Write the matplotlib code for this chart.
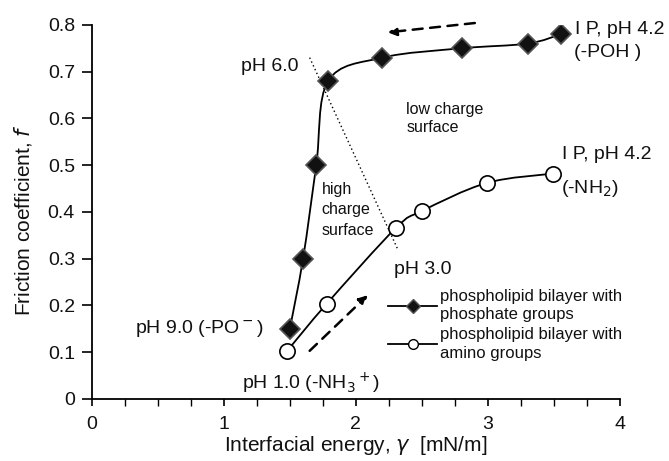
import numpy as np
import matplotlib
matplotlib.use("Agg")
import matplotlib.pyplot as plt
from matplotlib.path import Path
from matplotlib.patches import PathPatch
from matplotlib.lines import Line2D

plt.rcParams['font.family'] = ['Liberation Sans', 'DejaVu Sans']

# Data
phosphate_x = [1.50, 1.60, 1.70, 1.79, 2.20, 2.80, 3.30, 3.55]
phosphate_y = [0.15, 0.30, 0.50, 0.68, 0.73, 0.75, 0.76, 0.78]
amino_x = [1.48, 1.78, 2.30, 2.50, 2.99, 3.49]
amino_y = [0.103, 0.204, 0.365, 0.402, 0.462, 0.482]

x_ticks = [0, 1, 2, 3, 4]
y_ticks = [0, 0.1, 0.2, 0.3, 0.4, 0.5, 0.6, 0.7, 0.8]
y_ticklabels = ['0', '0.1', '0.2', '0.3', '0.4', '0.5', '0.6', '0.7', '0.8']

boundary_x = [1.65, 2.32]
boundary_y = [0.73, 0.318]

fig = plt.figure(figsize=(6.69, 4.61), dpi=100)
ax = fig.add_axes([0.137, 0.1345, 0.79, 0.8115])
ax.set_xlim(0, 4)
ax.set_ylim(0, 0.8)
for s in ['top', 'right']:
    ax.spines[s].set_visible(False)
for s in ['left', 'bottom']:
    ax.spines[s].set_linewidth(1.3)

ax.set_xticks(x_ticks)
ax.set_xticks(np.arange(0, 4.01, 0.25), minor=True)
ax.set_yticks(y_ticks)
ax.set_yticklabels(y_ticklabels)
ax.tick_params(axis='both', which='major', direction='out', labelsize=14, width=1.2,
               labelcolor='#111111')
ax.tick_params(axis='x', which='major', length=5, pad=7)
ax.tick_params(axis='x', which='minor', length=5, width=1.0)
ax.tick_params(axis='y', which='major', length=7, pad=5)

ax.set_xlabel('Interfacial energy, $\\mathit{\\gamma}$  [mN/m]', fontsize=15, labelpad=1,
              color='#111111')
ax.set_ylabel('Friction coefficient, $\\mathit{f}$', fontsize=15, color='#111111')
ax.yaxis.set_label_coords(-0.109, 0.479)

fig.canvas.draw()


def smooth_patch(xs, ys, **kw):
    pts = ax.transData.transform(np.column_stack([xs, ys]))
    n = len(pts)
    verts = [pts[0]]
    codes = [Path.MOVETO]
    for i in range(n - 1):
        p0 = pts[i - 1] if i > 0 else pts[i]
        p1 = pts[i]
        p2 = pts[i + 1]
        p3 = pts[i + 2] if i + 2 < n else pts[i + 1]
        c1 = p1 + (p2 - p0) / 6.0
        c2 = p2 - (p3 - p1) / 6.0
        verts += [c1, c2, p2]
        codes += [Path.CURVE4] * 3
    verts = ax.transData.inverted().transform(np.array(verts))
    patch = PathPatch(Path(verts, codes), facecolor='none', transform=ax.transData, **kw)
    ax.add_patch(patch)


smooth_patch(phosphate_x, phosphate_y, edgecolor='black', linewidth=1.3, zorder=3)
smooth_patch(amino_x, amino_y, edgecolor='black', linewidth=1.3, zorder=3)

ax.plot(phosphate_x, phosphate_y, linestyle='none', marker='D', markersize=10,
        markerfacecolor='#111111', markeredgecolor='#555555', markeredgewidth=1.2, zorder=4)
ax.plot(amino_x, amino_y, linestyle='none', marker='o', markersize=11,
        markerfacecolor='white', markeredgecolor='black', markeredgewidth=1.2, zorder=4)

# boundary dotted line
ax.plot(boundary_x, boundary_y, linestyle=(0, (1, 2)), color='black', linewidth=1.0, zorder=2)

# dashed arrows
ax.annotate('', xy=(2.24, 0.784), xytext=(2.90, 0.804), annotation_clip=False,
            arrowprops=dict(arrowstyle='-|>', linestyle=(0, (4, 3)), color='black', lw=1.8,
                            mutation_scale=13, shrinkA=0, shrinkB=0))
ax.annotate('', xy=(2.09, 0.222), xytext=(1.65, 0.103),
            arrowprops=dict(arrowstyle='-|>', linestyle=(0, (4, 3)), color='black', lw=1.8,
                            mutation_scale=13, shrinkA=0, shrinkB=0))

tk = dict(fontsize=14, color='#111111')
ax.text(3.66, 0.79, 'I P, pH 4.2', va='center', ha='left', clip_on=False, **tk)
ax.text(3.65, 0.741, '(-POH )', va='center', ha='left', clip_on=False, **tk)
ax.text(1.565, 0.711, 'pH 6.0', va='center', ha='right', **tk)
ax.text(3.56, 0.522, 'I P, pH 4.2', va='center', ha='left', clip_on=False, **tk)
ax.text(3.55, 0.451, '(-NH$_2$)', va='center', ha='left', clip_on=False, **tk)
ax.text(2.29, 0.276, 'pH 3.0', va='center', ha='left', **tk)
ax.text(1.30, 0.150, 'pH 9.0 (-PO$^-$)', va='center', ha='right', **tk)
ax.text(1.14, 0.033, 'pH 1.0 (-NH$_3$$^+$)', va='center', ha='left', **tk)

ax.text(2.38, 0.600, 'low charge\nsurface', va='center', ha='left',
        fontsize=11.5, color='#111111', linespacing=1.25)
ax.text(1.74, 0.405, 'high\ncharge\nsurface', va='center', ha='left',
        fontsize=11.5, color='#111111', linespacing=1.45)

h1 = Line2D([], [], color='black', linewidth=1.3, marker='D', markersize=7,
            markerfacecolor='#111111', markeredgecolor='#555555')
h2 = Line2D([], [], color='black', linewidth=1.3, marker='o', markersize=7,
            markerfacecolor='white', markeredgecolor='black')
leg = ax.legend([h1, h2], ['phospholipid bilayer with\nphosphate groups',
                           'phospholipid bilayer with\namino groups'],
                loc='upper left', bbox_to_anchor=(0.5615, 0.295), frameon=False,
                fontsize=12, handlelength=2.9, handletextpad=0.2, labelspacing=0.3,
                borderaxespad=0, borderpad=0)
for t in leg.get_texts():
    t.set_color('#111111')
    t.set_linespacing(1.3)

fig.savefig('out.png', dpi=100)
